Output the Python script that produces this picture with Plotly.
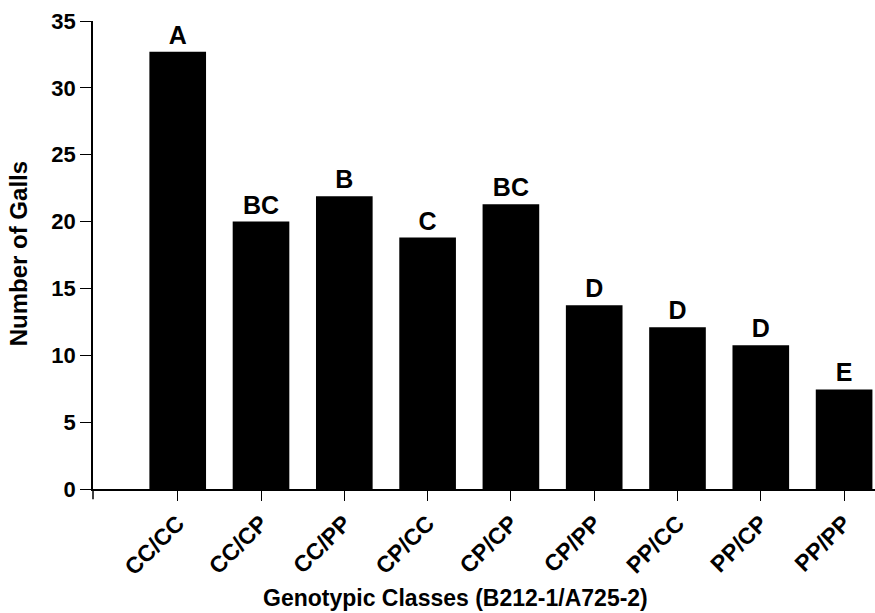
import plotly.graph_objects as go

categories = ["CC/CC", "CC/CP", "CC/PP", "CP/CC", "CP/CP", "CP/PP", "PP/CC", "PP/CP", "PP/PP"]
galls = [32.7, 20.0, 21.9, 18.8, 21.3, 13.75, 12.1, 10.75, 7.45]
groups = ["A", "BC", "B", "C", "BC", "D", "D", "D", "E"]
y_ticks = [0, 5, 10, 15, 20, 25, 30, 35]

FONT = "Liberation Sans, Arial, sans-serif"

fig = go.Figure(
    go.Bar(
        x=categories,
        y=galls,
        text=groups,
        textposition="outside",
        textfont=dict(family=FONT, size=25, color="black", weight="bold"),
        marker=dict(color="black", line=dict(width=0)),
        width=0.68,
        cliponaxis=False,
    )
)

fig.update_layout(
    width=875,
    height=613,
    margin=dict(l=93, r=0, t=21, b=124),
    plot_bgcolor="white",
    paper_bgcolor="white",
    showlegend=False,
    font=dict(family=FONT, color="black"),
    uniformtext=dict(minsize=8, mode="show"),
)

fig.update_xaxes(
    type="category",
    range=[-1.017, 8.371],
    showline=True,
    linecolor="black",
    linewidth=1.5,
    ticks="outside",
    ticklen=10,
    tickwidth=1.2,
    tickcolor="black",
    tickangle=-45,
    tickfont=dict(family=FONT, size=23, color="black", weight="bold"),
    showgrid=False,
    zeroline=False,
)

fig.update_yaxes(
    range=[0, 35],
    tickvals=y_ticks,
    showline=True,
    linecolor="black",
    linewidth=1.5,
    ticks="outside",
    ticklen=11,
    tickwidth=1.2,
    tickcolor="black",
    tickfont=dict(family=FONT, size=22, color="black", weight="bold"),
    showgrid=False,
    zeroline=False,
)

# small downward extension of the y axis below the origin
fig.add_shape(type="line", xref="paper", yref="paper", x0=0, x1=0, y0=0, y1=-0.022,
              line=dict(color="black", width=1.5))

fig.add_annotation(
    text="<b>Genotypic Classes (B212-1/A725-2)</b>",
    xref="paper", yref="paper", x=0.463, y=-0.262,
    xanchor="center", yanchor="bottom", showarrow=False, borderpad=0,
    font=dict(family=FONT, size=23, color="black"),
)
fig.add_annotation(
    text="<b>Number of Galls</b>",
    xref="paper", yref="paper", x=-0.095, y=0.503,
    xanchor="center", yanchor="middle", showarrow=False, textangle=-90,
    font=dict(family=FONT, size=24, color="black"),
)

fig.write_html(
    "out.html",
    config={"displayModeBar": False},
    post_script="document.body.style.margin='0';document.body.style.overflow='hidden';",
)
